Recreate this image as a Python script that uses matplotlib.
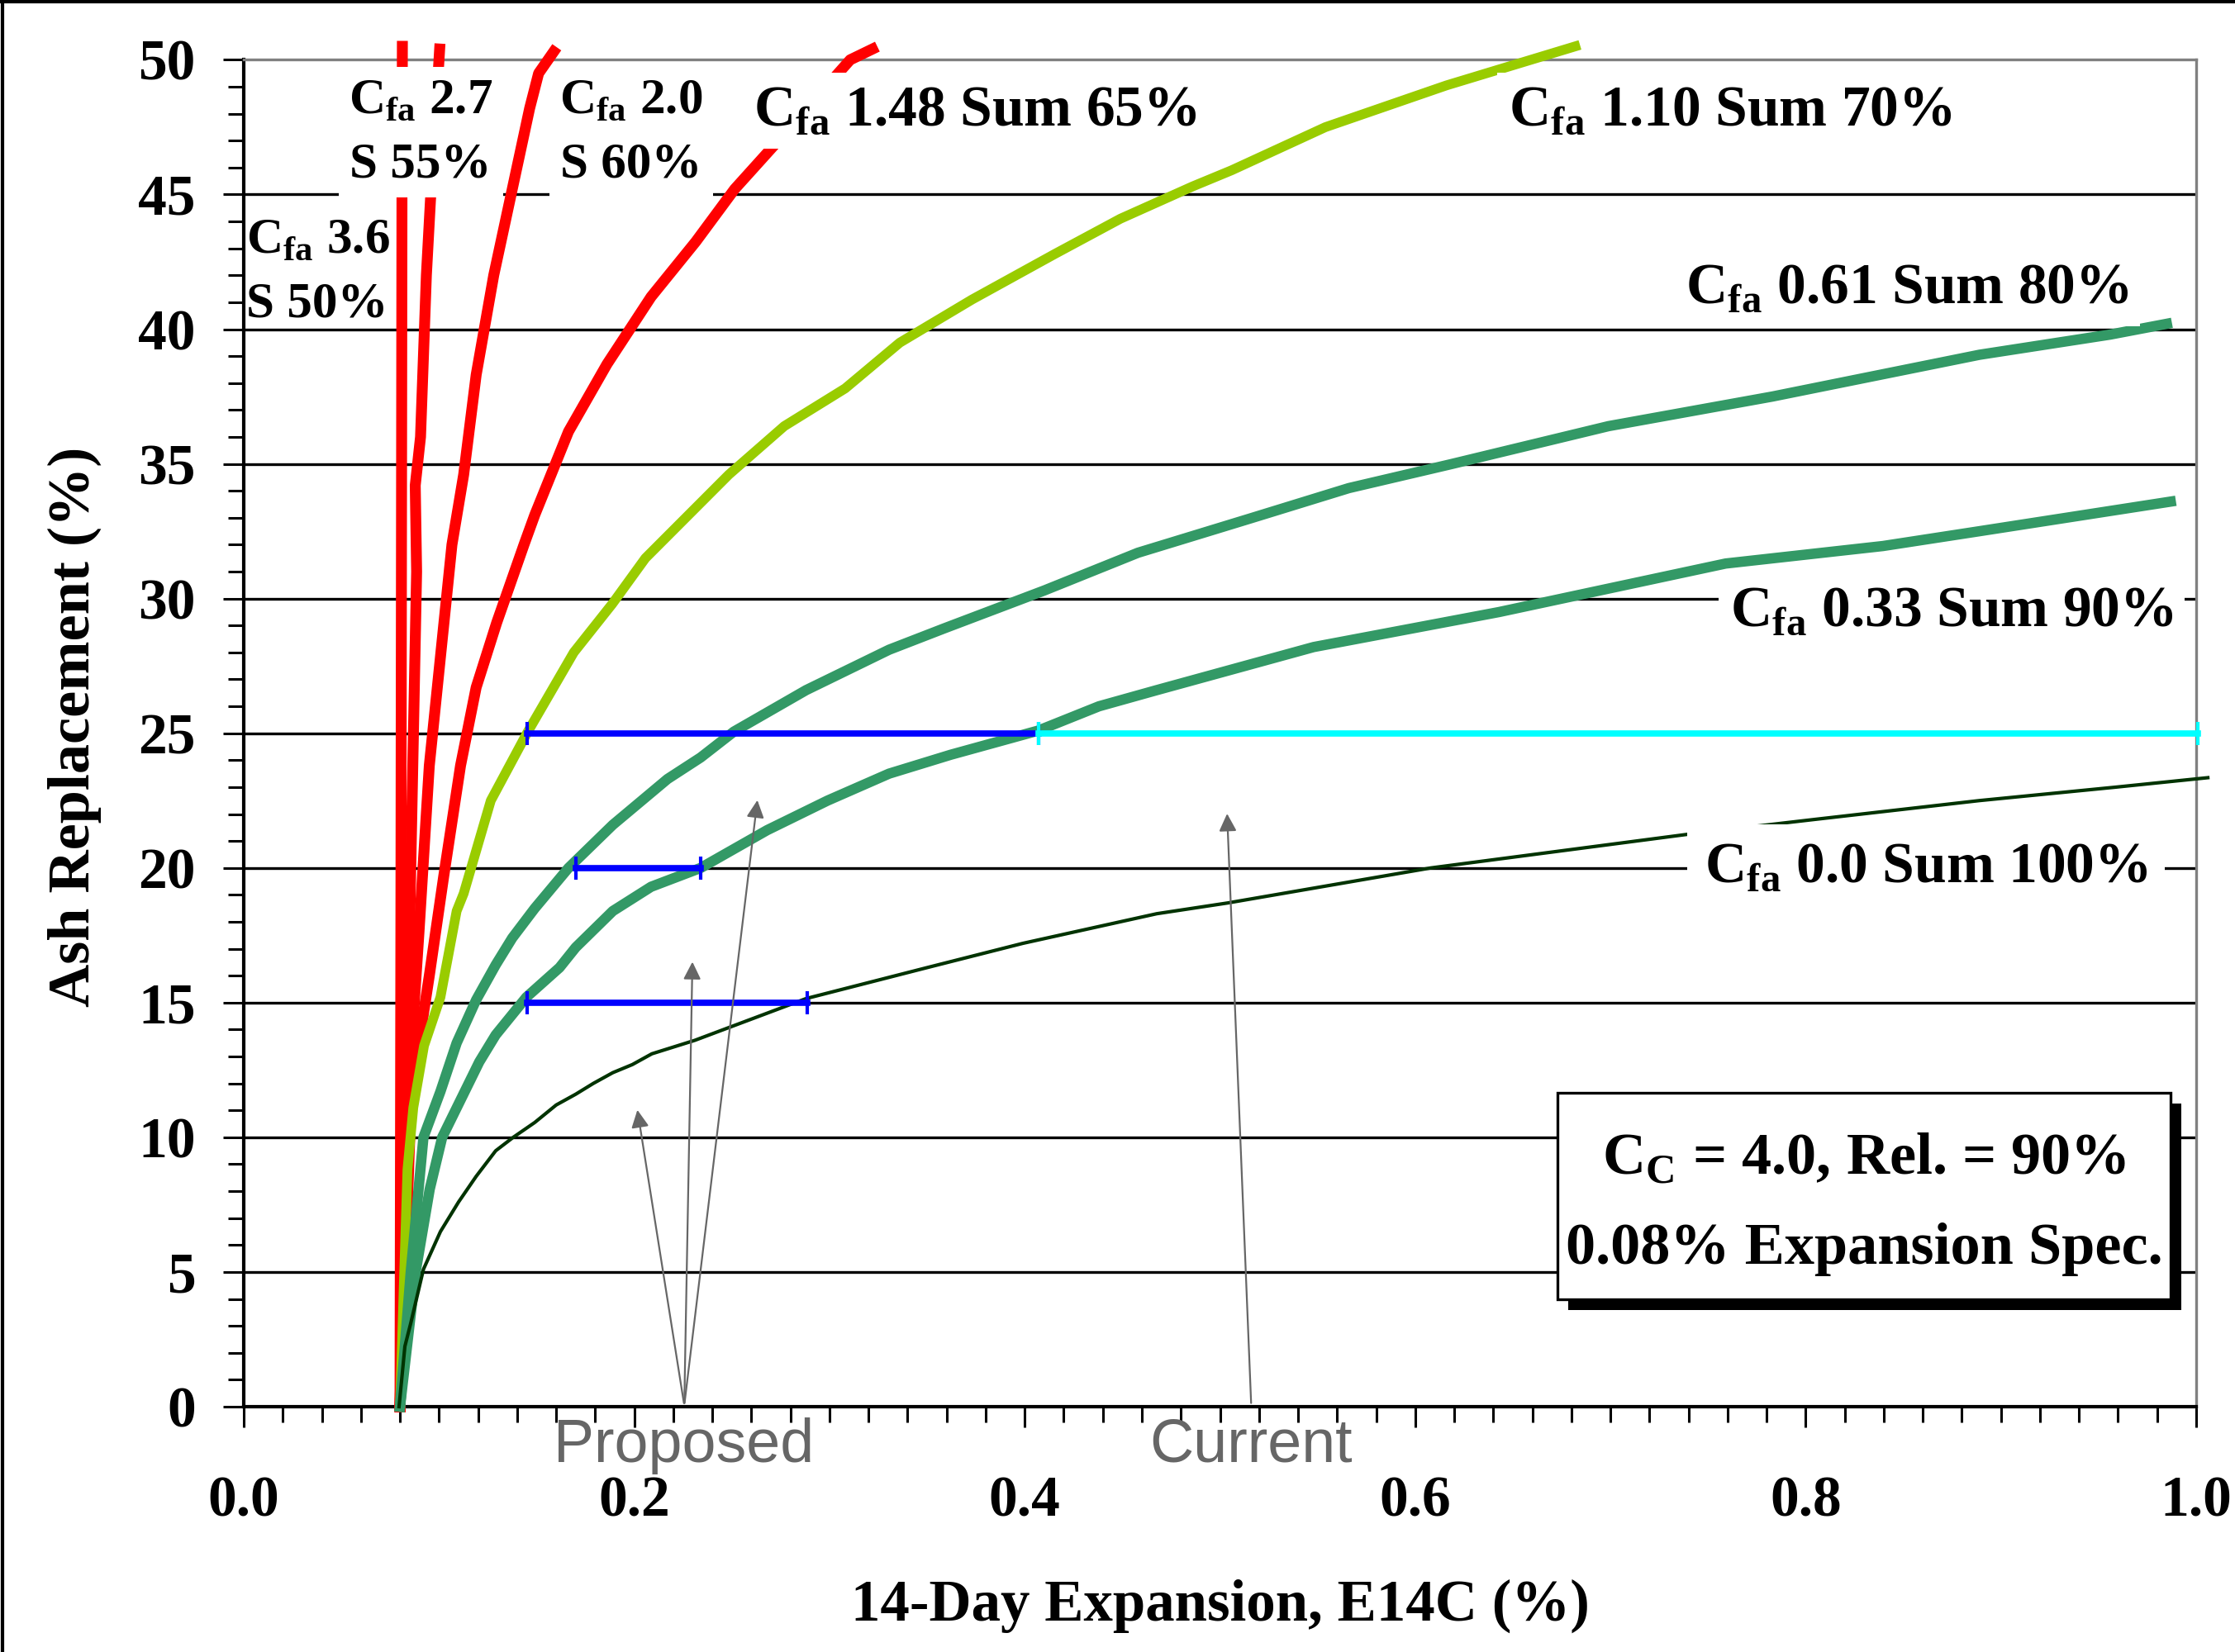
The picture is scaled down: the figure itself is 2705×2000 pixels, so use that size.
import numpy as np
import matplotlib.pyplot as plt
from matplotlib.patches import Rectangle
from matplotlib.lines import Line2D

plt.rcParams['font.family'] = 'Liberation Serif'
plt.rcParams['font.weight'] = 'bold'
plt.rcParams['mathtext.fontset'] = 'custom'
plt.rcParams['mathtext.rm'] = 'Liberation Serif:bold'
plt.rcParams['mathtext.bf'] = 'Liberation Serif:bold'

# curves: (expansion %, ash replacement %)
red36_x = [0.080, 0.0805, 0.081, 0.0812]
red36_y = [0, 20, 45, 50.5]
red27_x = [0.080, 0.083, 0.0855, 0.0885, 0.0878, 0.0905, 0.0935, 0.0956, 0.1003]
red27_y = [0, 10, 20, 31, 34.2, 36, 42, 44.8, 50.4]
red20_x = [0.080, 0.084, 0.0897, 0.095, 0.1066, 0.1126, 0.119, 0.128, 0.1464, 0.151, 0.1587]
red20_y = [0, 11.4, 17.6, 23.8, 32.0, 34.6, 38.3, 42.0, 48.2, 49.5, 50.3]
red148_x = [0.080, 0.0825, 0.0855, 0.0897, 0.095, 0.1024, 0.111, 0.119, 0.1295, 0.1435, 0.149,
            0.1663, 0.186, 0.2086, 0.2315, 0.2514, 0.2738, 0.3106, 0.322]
red148_y = [0, 5, 11.0, 13.5, 16.0, 19.7, 23.8, 26.7, 29.1, 32.0, 33.1,
            36.2, 38.7, 41.2, 43.25, 45.2, 47.0, 50.0, 50.4]
yg110_x = [0.080, 0.0838, 0.0868, 0.0923, 0.1007, 0.109, 0.1126, 0.1265, 0.145, 0.169, 0.1887,
           0.2057, 0.2484, 0.2768, 0.308, 0.336, 0.373, 0.4156, 0.449, 0.486, 0.506, 0.554, 0.616, 0.682]
yg110_y = [0, 8.8, 11.1, 13.4, 15.2, 18.4, 19.05, 22.5, 25.0, 28.0, 29.8,
           31.5, 34.6, 36.4, 37.8, 39.5, 41.1, 42.8, 44.1, 45.3, 45.9, 47.5, 49.05, 50.5]
g061_x = [0.080, 0.0855, 0.092, 0.1007, 0.109, 0.119, 0.129, 0.1375, 0.149, 0.1663, 0.189, 0.217,
          0.234, 0.251, 0.288, 0.3305, 0.359, 0.410, 0.458, 0.5167, 0.566, 0.619, 0.699, 0.783,
          0.889, 0.956, 0.985]
g061_y = [0, 5, 10, 11.7, 13.5, 15.1, 16.4, 17.4, 18.5, 20.0, 21.6, 23.3,
          24.1, 25.06, 26.6, 28.1, 28.9, 30.3, 31.7, 33.0, 34.1, 35.0, 36.4, 37.5,
          39.05, 39.8, 40.2]
g033_x = [0.080, 0.088, 0.0952, 0.1016, 0.1206, 0.129, 0.1447, 0.1617, 0.170, 0.189, 0.2086,
          0.234, 0.268, 0.299, 0.3305, 0.362, 0.407, 0.438, 0.4676, 0.548, 0.643, 0.759, 0.8396,
          0.889, 0.987]
g033_y = [0, 5, 8.07, 10.0, 12.8, 13.8, 15.2, 16.3, 17.05, 18.4, 19.3,
          20.0, 21.4, 22.5, 23.5, 24.2, 25.1, 26.0, 26.6, 28.2, 29.5, 31.3, 31.95,
          32.5, 33.6]
dg00_x = [0.0795, 0.0825, 0.0855, 0.092, 0.1007, 0.110, 0.119, 0.129, 0.138, 0.149, 0.160, 0.170,
          0.179, 0.189, 0.199, 0.209, 0.231, 0.288, 0.350, 0.399, 0.4676, 0.504, 0.608, 0.745,
          0.8045, 0.889, 0.959, 1.006]
dg00_y = [0, 2.24, 3.1, 5.1, 6.5, 7.6, 8.55, 9.5, 10.0, 10.55, 11.2, 11.6,
          12.0, 12.4, 12.7, 13.1, 13.6, 15.15, 16.3, 17.2, 18.3, 18.7, 20.0, 21.3,
          21.8, 22.5, 23.0, 23.35]

# proposed / current ranges
prop_y = [25, 20, 15]
prop_x0 = [0.145, 0.170, 0.145]
prop_x1 = [0.407, 0.234, 0.2886]
curr_y = 25
curr_x = [0.407, 1.001]

# arrows: tail -> head
prop_tail = (0.2256, 0.05)
prop_heads = [(0.2014, 11.1), (0.2298, 16.6), (0.2632, 22.6)]
curr_tail = (0.516, 0.05)
curr_head = (0.5036, 22.1)

fig = plt.figure(figsize=(27.05, 20), dpi=100)
ax = fig.add_axes([0.1091, 0.1485, 0.8735, 0.8153])
ax.set_xlim(0, 1)
ax.set_ylim(0, 50)

ax.hlines(np.arange(5, 50, 5), 0, 1, color='black', lw=2.4, zorder=1)

ax.plot(red36_x, red36_y, color='#FF0000', lw=9.5, clip_on=False, zorder=3)
ax.plot(red27_x, red27_y, color='#FF0000', lw=9.5, clip_on=False, zorder=3)
ax.plot(red20_x, red20_y, color='#FF0000', lw=9.5, clip_on=False, zorder=3)
ax.plot(red148_x, red148_y, color='#FF0000', lw=9.5, clip_on=False, zorder=3)
ax.plot(yg110_x, yg110_y, color='#99CC00', lw=8.5, clip_on=False, zorder=3)
ax.plot(g061_x, g061_y, color='#339966', lw=9, clip_on=False, zorder=3)
ax.plot(g033_x, g033_y, color='#339966', lw=9, clip_on=False, zorder=3)
ax.plot(dg00_x, dg00_y, color='#003300', lw=3, clip_on=False, zorder=3)

for y, x0, x1 in zip(prop_y, prop_x0, prop_x1):
    ax.plot([x0, x1], [y, y], color='#0000FF', lw=5.5, marker='|', ms=20, mew=3, zorder=4)
ax.plot(curr_x, [curr_y, curr_y], color='#00FFFF', lw=5.5, marker='|', ms=20, mew=3,
        clip_on=False, zorder=4)

arrow_kw = dict(arrowstyle='-|>', color='#666666', lw=1.6, mutation_scale=32)
for hx, hy in prop_heads:
    ax.annotate('', xy=(hx, hy), xytext=prop_tail, arrowprops=arrow_kw, zorder=5,
                annotation_clip=False)
ax.annotate('', xy=curr_head, xytext=curr_tail, arrowprops=arrow_kw, zorder=5,
            annotation_clip=False)
ax.text(0.2255, -1.45, 'Proposed', family='Liberation Sans', weight='normal', fontsize=53,
        color='#666666', ha='center', va='center', zorder=6)
ax.text(0.516, -1.45, 'Current', family='Liberation Sans', weight='normal', fontsize=53,
        color='#666666', ha='center', va='center', zorder=6)

box_kw = dict(boxstyle='square,pad=0.2', fc='white', ec='none')
ax.text(0.0906, 47.3, 'C$_{\\mathrm{fa}}$ 2.7\nS 55%', fontsize=44, ha='center', va='center',
        linespacing=1.5, bbox=box_kw, zorder=6, clip_on=False)
ax.text(0.1985, 47.3, 'C$_{\\mathrm{fa}}$ 2.0\nS 60%', fontsize=44, ha='center', va='center',
        linespacing=1.5, bbox=box_kw, zorder=6, clip_on=False)
ax.text(0.0013, 42.1, 'C$_{\\mathrm{fa}}$ 3.6\nS 50%', fontsize=44, ha='left', va='center',
        linespacing=1.5, zorder=6)
ax.text(0.3745, 48.1, 'C$_{\\mathrm{fa}}$ 1.48 Sum 65%', fontsize=50, ha='center', va='center',
        bbox=box_kw, zorder=6)
ax.text(0.7614, 48.1, 'C$_{\\mathrm{fa}}$ 1.10 Sum 70%', fontsize=50, ha='center', va='center',
        bbox=box_kw, zorder=6)
ax.text(0.852, 41.5, 'C$_{\\mathrm{fa}}$ 0.61 Sum 80%', fontsize=50, ha='center', va='center',
        bbox=box_kw, zorder=6)
ax.text(0.8747, 29.5, 'C$_{\\mathrm{fa}}$ 0.33 Sum 90%', fontsize=50, ha='center', va='center',
        bbox=box_kw, zorder=6)
ax.text(0.8617, 20.0, 'C$_{\\mathrm{fa}}$ 0.0 Sum 100%', fontsize=50, ha='center', va='center',
        bbox=dict(boxstyle='square,pad=0.3', fc='white', ec='none'), zorder=6)

# info box with drop shadow
ax.add_patch(Rectangle((0.6782, 3.59), 0.3142, 7.67, fc='black', ec='none', zorder=6))
ax.add_patch(Rectangle((0.6727, 3.99), 0.3142, 7.67, fc='white', ec='black', lw=2.4, zorder=7))
ax.text(0.830, 9.2, 'C$_{\\mathrm{C}}$ = 4.0, Rel. = 90%', fontsize=52, ha='center', va='center',
        zorder=8)
ax.text(0.830, 5.83, '0.08% Expansion Spec.', fontsize=52, ha='center', va='center', zorder=8)

ax.set_xticks(np.arange(0, 1.01, 0.2))
ax.set_xticklabels(['0.0', '0.2', '0.4', '0.6', '0.8', '1.0'])
ax.set_xticks(np.arange(0, 1.001, 0.02), minor=True)
ax.set_yticks(np.arange(0, 51, 5))
ax.set_yticks(np.arange(0, 51, 1), minor=True)
ax.tick_params(axis='both', which='major', direction='out', length=18, width=2.2, labelsize=50)
ax.tick_params(axis='both', which='minor', direction='out', length=14, width=2.2)
ax.tick_params(axis='x', which='major', pad=42)
ax.tick_params(axis='y', which='major', pad=24)

ax.spines['left'].set_linewidth(3)
ax.spines['bottom'].set_linewidth(3)
ax.spines['top'].set_color('#808080')
ax.spines['right'].set_color('#808080')
ax.spines['top'].set_linewidth(2.4)
ax.spines['right'].set_linewidth(2.4)

ax.set_xlabel('14-Day Expansion, E14C (%)', fontsize=51, fontweight='bold')
ax.xaxis.set_label_coords(0.5, -0.128)
ax.set_ylabel('Ash Replacement (%)', fontsize=52, fontweight='bold')
ax.yaxis.set_label_coords(-0.073, 0.505)

fig.add_artist(Line2D([0.001, 0.001], [0, 1], color='black', lw=3))
fig.add_artist(Line2D([0, 1], [0.999, 0.999], color='black', lw=3))

fig.savefig('out.png', dpi=100)
